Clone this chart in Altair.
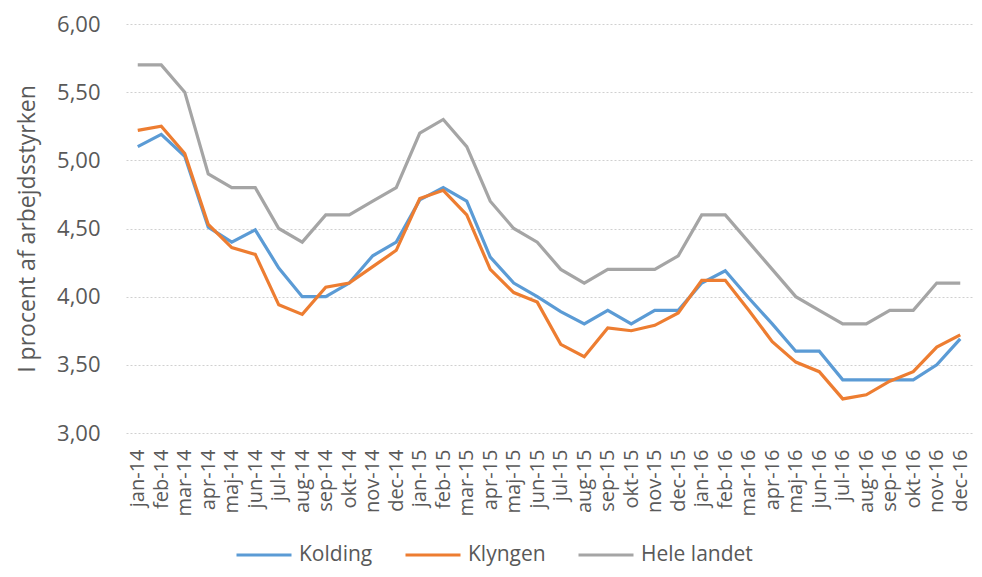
import altair as alt
import pandas as pd

months = ["jan-14", "feb-14", "mar-14", "apr-14", "maj-14", "jun-14", "jul-14", "aug-14",
          "sep-14", "okt-14", "nov-14", "dec-14",
          "jan-15", "feb-15", "mar-15", "apr-15", "maj-15", "jun-15", "jul-15", "aug-15",
          "sep-15", "okt-15", "nov-15", "dec-15",
          "jan-16", "feb-16", "mar-16", "apr-16", "maj-16", "jun-16", "jul-16", "aug-16",
          "sep-16", "okt-16", "nov-16", "dec-16"]

kolding = [5.10, 5.19, 5.03, 4.51, 4.40, 4.49, 4.21, 4.00, 4.00, 4.10, 4.30, 4.40,
           4.71, 4.80, 4.70, 4.29, 4.10, 4.00, 3.89, 3.80, 3.90, 3.80, 3.90, 3.90,
           4.10, 4.19, 3.99, 3.80, 3.60, 3.60, 3.39, 3.39, 3.39, 3.39, 3.50, 3.69]

klyngen = [5.22, 5.25, 5.05, 4.53, 4.36, 4.31, 3.94, 3.87, 4.07, 4.10, 4.22, 4.34,
           4.72, 4.78, 4.60, 4.20, 4.03, 3.96, 3.65, 3.56, 3.77, 3.75, 3.79, 3.88,
           4.12, 4.12, 3.90, 3.67, 3.52, 3.45, 3.25, 3.28, 3.38, 3.45, 3.63, 3.72]

hele_landet = [5.70, 5.70, 5.50, 4.90, 4.80, 4.80, 4.50, 4.40, 4.60, 4.60, 4.70, 4.80,
               5.20, 5.30, 5.10, 4.70, 4.50, 4.40, 4.20, 4.10, 4.20, 4.20, 4.20, 4.30,
               4.60, 4.60, 4.40, 4.20, 4.00, 3.90, 3.80, 3.80, 3.90, 3.90, 4.10, 4.10]

series_names = ["Kolding", "Klyngen", "Hele landet"]
series_colors = ["#5B9BD5", "#ED7D31", "#A5A5A5"]
y_ticks = [3.0, 3.5, 4.0, 4.5, 5.0, 5.5, 6.0]

rows = []
for name, vals in [("Hele landet", hele_landet), ("Kolding", kolding), ("Klyngen", klyngen)]:
    for m, v in zip(months, vals):
        rows.append({"month": m, "serie": name, "value": v})
df = pd.DataFrame(rows)

FONT = "Open Sans"
TXT = "#595959"

chart = alt.Chart(df).mark_line(strokeWidth=3.2).encode(
    x=alt.X("month:N", sort=months,
            scale=alt.Scale(type="point", padding=0.5),
            axis=alt.Axis(title=None, labelAngle=270, labelFontSize=20, labelColor=TXT,
                          labelFont=FONT, labelPadding=16, ticks=False, domain=False,
                          grid=False, labelOverlap=False)),
    y=alt.Y("value:Q",
            scale=alt.Scale(domain=[3, 6], nice=False, zero=False),
            axis=alt.Axis(values=y_ticks,
                          labelExpr="replace(format(datum.value, '.2f'), '.', ',')",
                          title="I procent af arbejdsstyrken", titleFont=FONT,
                          titleFontSize=23, titleFontWeight="normal", titleColor=TXT,
                          titlePadding=17,
                          labelFont=FONT, labelFontSize=22, labelColor=TXT,
                          labelPadding=26, ticks=False, domain=False,
                          grid=True, gridColor="#D0D0D0", gridDash=[2, 2], gridWidth=1)),
    color=alt.Color("serie:N",
                    scale=alt.Scale(domain=series_names, range=series_colors),
                    legend=alt.Legend(title=None, orient="none", direction="horizontal",
                                      legendX=109, legendY=502,
                                      symbolType="stroke", symbolSize=3025,
                                      symbolStrokeWidth=3, labelFont=FONT,
                                      labelFontSize=21, labelColor=TXT,
                                      columnPadding=26, labelOffset=6)),
).properties(
    width=846, height=409,
    autosize=alt.AutoSizeParams(type="none"),
    padding={"left": 118, "top": 16, "right": 2, "bottom": 136},
).configure_view(stroke=None)

chart.save("out.html", embed_options={"renderer": "svg", "actions": False})
